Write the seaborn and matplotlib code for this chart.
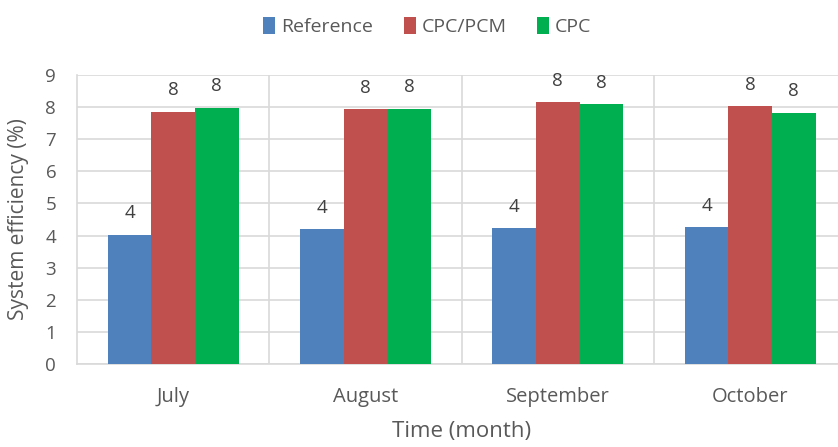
import pandas as pd
import seaborn as sns
import matplotlib.pyplot as plt

months = ['July', 'August', 'September', 'October']
reference = [4.02, 4.20, 4.23, 4.25]
cpc_pcm = [7.86, 7.93, 8.15, 8.03]
cpc = [7.98, 7.95, 8.09, 7.83]
series = ['Reference', 'CPC/PCM', 'CPC']
colors = ['#4F81BD', '#C0504D', '#00B050']

df = pd.DataFrame({
    'Month': months * 3,
    'Series': [s for s in series for _ in months],
    'Efficiency': reference + cpc_pcm + cpc,
})

sns.set_style('white')
plt.rcParams['font.family'] = ['Open Sans', 'DejaVu Sans']
txt = '#595959'

fig = plt.figure(figsize=(8.38, 4.47), dpi=100)
ax = fig.add_axes([0.0919, 0.186, 0.918, 0.646])

sns.barplot(data=df, x='Month', y='Efficiency', hue='Series', order=months,
            hue_order=series, palette=colors, width=0.68, saturation=1,
            edgecolor='none', linewidth=0, legend=True, ax=ax, zorder=3)

for c in ax.containers:
    ax.bar_label(c, fmt='%.0f', padding=9, fontsize=13.5, color='#404040')

ax.set_ylim(0, 9)
ax.set_xlim(-0.5, 3.5)
ax.set_yticks(range(10))
ax.set_xticks([0.5, 1.5, 2.5], minor=True)
ax.grid(axis='y', color='#D9D9D9', linewidth=1.2, zorder=0)
ax.grid(axis='x', which='minor', color='#D9D9D9', linewidth=1.2, zorder=0)
ax.tick_params(axis='both', which='both', length=0, labelcolor=txt)
ax.tick_params(axis='x', labelsize=14.5, pad=17)
ax.tick_params(axis='y', labelsize=13.5, pad=15)
for side in ['top', 'right']:
    ax.spines[side].set_visible(False)
for side in ['left', 'bottom']:
    ax.spines[side].set_color('#D9D9D9')
    ax.spines[side].set_linewidth(1.2)

ax.set_xlabel('Time (month)', fontsize=16, color=txt, labelpad=10)
ax.set_ylabel('System efficiency (%)', fontsize=15, color=txt, labelpad=12)

handles, labels = ax.get_legend_handles_labels()
ax.get_legend().remove()
fig.legend(handles, labels, loc='upper center', bbox_to_anchor=(0.51, 1.0),
           ncol=3, frameon=False, fontsize=14, labelcolor=txt,
           handlelength=0.6, handleheight=0.9, handletextpad=0.3, columnspacing=1.6)

fig.savefig('out.png', dpi=100)
